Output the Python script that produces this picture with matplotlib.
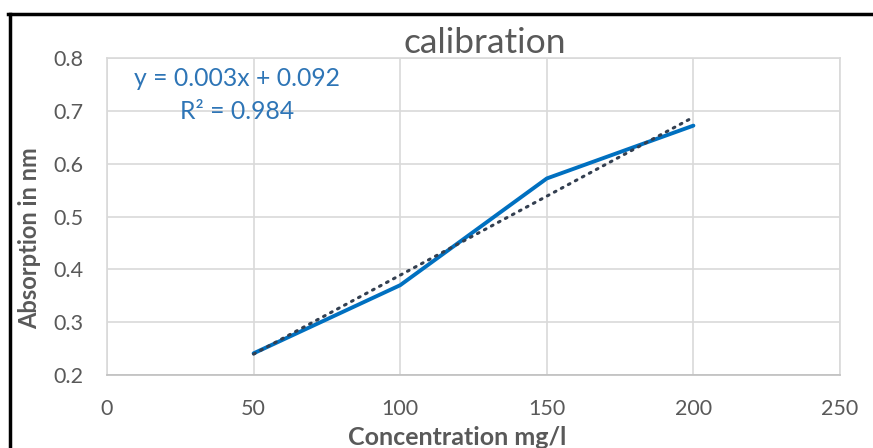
import matplotlib
matplotlib.use("Agg")
import matplotlib.pyplot as plt
import numpy as np
from matplotlib.lines import Line2D

concentration = [50, 100, 150, 200]
absorption = [0.241, 0.370, 0.572, 0.672]
x_ticks = [0, 50, 100, 150, 200, 250]
y_ticks = [0.2, 0.3, 0.4, 0.5, 0.6, 0.7, 0.8]
title = "calibration"
xlabel = "Concentration mg/l"
ylabel = "Absorption in nm"
eq_text = "y = 0.003x + 0.092"
r2_text = "R² = 0.984"

plt.rcParams['font.family'] = ['Lato', 'DejaVu Sans']

W, H = 873, 448
fig = plt.figure(figsize=(W / 100, H / 100), dpi=100)
ax = fig.add_axes([107 / W, (H - 375) / H, (840 - 107) / W, (375 - 58) / H])

grid_c = '#d9d9d9'
ax.plot(concentration, absorption, color='#0070C0', lw=2.8, solid_capstyle='round', zorder=3)

coef = np.polyfit(concentration, absorption, 1)
xs = np.array([concentration[0], concentration[-1]])
ax.plot(xs, np.polyval(coef, xs), color='#333F50', lw=2.2, linestyle=(0, (0.6, 2.0)),
        dash_capstyle='round', zorder=4)

ax.set_xlim(0, 250)
ax.set_ylim(0.2, 0.8)
ax.set_xticks(x_ticks)
ax.set_yticks(y_ticks)
ax.set_xticklabels([str(v) for v in x_ticks])
ax.set_yticklabels([f"{v:.1f}" for v in y_ticks])
ax.grid(True, color=grid_c, lw=1.2)
ax.set_axisbelow(True)
for s in ax.spines.values():
    s.set_color(grid_c)
    s.set_linewidth(1.2)
ax.spines['bottom'].set_color('#bfbfbf')
ax.tick_params(length=0, labelsize=15.5, labelcolor='#595959')
ax.tick_params(axis='y', pad=17)
ax.tick_params(axis='x', pad=17)

ax.set_xlabel(xlabel, fontsize=18, fontweight='bold', color='#595959')
ax.set_ylabel(ylabel, fontsize=17, fontweight='bold', color='#595959')
ax.xaxis.set_label_coords(457 / W, 1 - 437 / H, transform=fig.transFigure)
ax.xaxis.label.set_va('center')
ax.yaxis.set_label_coords(30 / W, 1 - 238 / H, transform=fig.transFigure)
ax.yaxis.label.set_va('center')

fig.text(485 / W, 1 - 53 / H, title, fontsize=25.5, color='#595959', ha='center', va='baseline')

eq_x = (237 - 107) / (840 - 107) * 250
ax.text(eq_x, 0.762, eq_text, fontsize=17.8, color='#2E75B6', ha='center', va='center', zorder=5)
ax.text(eq_x, 0.698, r2_text, fontsize=17.8, color='#2E75B6', ha='center', va='center', zorder=5)

# black frame (top and left edges)
fig.add_artist(Line2D([9.5 / W, 9.5 / W], [0, 1 - 14 / H], transform=fig.transFigure, color='black', lw=2.5))
fig.add_artist(Line2D([8 / W, 1], [1 - 14 / H, 1 - 14 / H], transform=fig.transFigure, color='black', lw=2.5))

fig.savefig("out.png", dpi=100)
